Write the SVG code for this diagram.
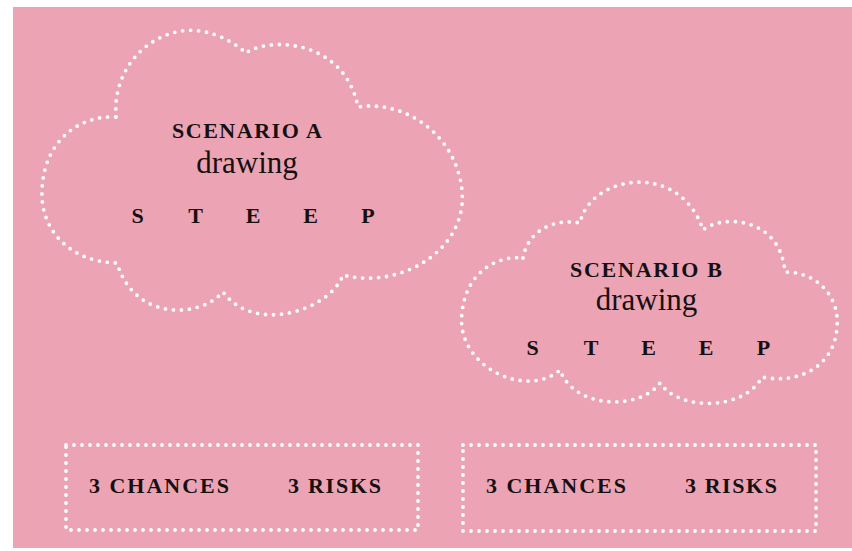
<svg xmlns="http://www.w3.org/2000/svg" width="852" height="551" viewBox="0 0 852 551">
  <style>
    .dots { fill: none; stroke: #ffffff; stroke-width: 3.8; stroke-linecap: round; stroke-dasharray: 0 8; }
    .caps { font-family: "Liberation Serif", "Times New Roman", serif; font-weight: bold; font-size: 22px; fill: #161012; }
    .script { font-family: "Liberation Serif", "Times New Roman", serif; font-size: 31px; fill: #161012; }
    .steep { font-family: "Liberation Serif", "Times New Roman", serif; font-weight: bold; font-size: 22px; fill: #161012; text-anchor: middle; }
    .mid { text-anchor: middle; }
  </style>
  <rect x="0" y="0" width="852" height="551" fill="#ffffff"/>
  <rect x="13" y="7" width="839" height="541" fill="#eca4b4"/>

  <g id="cloud-a">
    <path class="dots" d="M116,117 C112,60 160,25 200,31 C220,34 236,44 246,53 C270,36 345,40 358,107 C400,100 455,130 462,190 C468,250 400,290 343,275 C330,310 255,335 223,292 C200,318 135,322 117,263 C70,262 40,230 42,190 C44,140 80,115 116,117 Z"/>
    <text class="caps mid" x="247" y="138" textLength="150" lengthAdjust="spacing">SCENARIO A</text>
    <text class="script mid" x="247" y="173">drawing</text>
    <text class="steep" x="137.5" y="223">S</text>
    <text class="steep" x="195.5" y="223">T</text>
    <text class="steep" x="253" y="223">E</text>
    <text class="steep" x="310.5" y="223">E</text>
    <text class="steep" x="368" y="223">P</text>
  </g>

  <g id="cloud-b">
    <path class="dots" d="M523,258 C528,230 555,218 580,223 C590,175 680,160 703,230 C720,215 780,215 785,272 C820,272 840,300 837,327 C835,365 800,385 762,377 C745,410 680,412 660,383 C640,410 575,410 560,370 C525,400 455,365 462,313 C466,270 500,255 523,258 Z"/>
    <text class="caps mid" x="646" y="277" textLength="152" lengthAdjust="spacing">SCENARIO B</text>
    <text class="script mid" x="646.5" y="310">drawing</text>
    <text class="steep" x="532.5" y="355">S</text>
    <text class="steep" x="591" y="355">T</text>
    <text class="steep" x="648.5" y="355">E</text>
    <text class="steep" x="706" y="355">E</text>
    <text class="steep" x="763.5" y="355">P</text>
  </g>

  <g id="box-a">
    <rect class="dots" x="66" y="445" width="352" height="85"/>
    <text class="caps" x="89" y="493" textLength="140" lengthAdjust="spacing">3 CHANCES</text>
    <text class="caps" x="288" y="493" textLength="93" lengthAdjust="spacing">3 RISKS</text>
  </g>

  <g id="box-b">
    <rect class="dots" x="463" y="445" width="353" height="86"/>
    <text class="caps" x="486" y="493" textLength="140" lengthAdjust="spacing">3 CHANCES</text>
    <text class="caps" x="685" y="493" textLength="92" lengthAdjust="spacing">3 RISKS</text>
  </g>
</svg>
